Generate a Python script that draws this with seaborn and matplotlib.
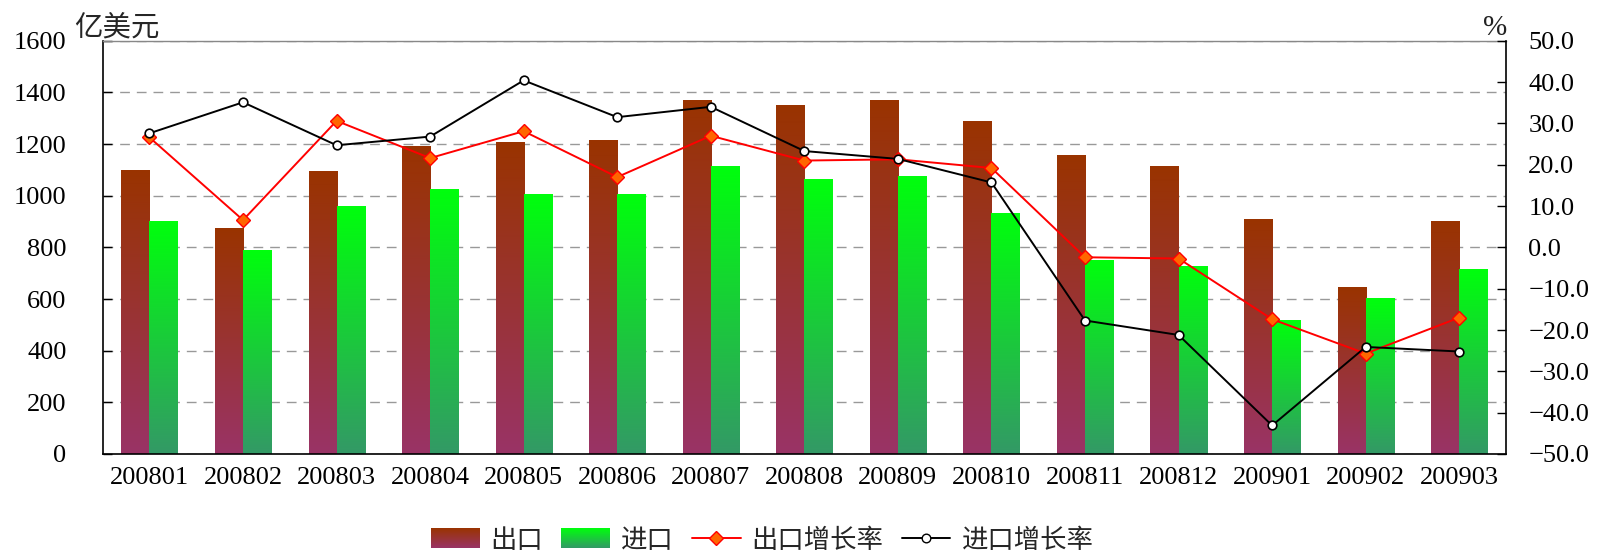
import numpy as np
import pandas as pd
import matplotlib
matplotlib.use("Agg")
import matplotlib.pyplot as plt
import seaborn as sns
from matplotlib.ticker import FuncFormatter, MultipleLocator
from matplotlib.lines import Line2D
from matplotlib.patches import Patch
from matplotlib.font_manager import FontProperties
from matplotlib.legend_handler import HandlerBase
from matplotlib.image import BboxImage
from matplotlib.transforms import Bbox, TransformedBbox

# ---------------- data ----------------
months = ["200801", "200802", "200803", "200804", "200805", "200806", "200807", "200808",
          "200809", "200810", "200811", "200812", "200901", "200902", "200903"]
exports = [1097, 872, 1093, 1190, 1205, 1213, 1368, 1348, 1368, 1286, 1155, 1112, 906, 646, 902]
imports = [902, 786, 957, 1023, 1003, 1003, 1112, 1062, 1073, 930, 751, 724, 515, 603, 716]
export_growth = [26.6, 6.6, 30.6, 21.6, 28.1, 17.0, 27.0, 21.0, 21.3, 19.2, -2.4, -2.7, -17.4, -25.7, -17.0]
import_growth = [27.6, 35.1, 24.7, 26.8, 40.4, 31.5, 34.0, 23.3, 21.4, 15.7, -17.7, -21.2, -43.1, -24.1, -25.2]
series_names = ["出口", "进口"]
line_names = ["出口增长率", "进口增长率"]
left_unit = "亿美元"
right_unit = "%"

# ---------------- style ----------------
EXP_TOP, EXP_BOT = (0.600, 0.200, 0.000), (0.600, 0.200, 0.400)
IMP_TOP, IMP_BOT = (0.000, 1.000, 0.050), (0.200, 0.600, 0.400)
CJK = ["Noto Sans CJK SC", "DejaVu Sans"]
NUM = ["Liberation Serif", "DejaVu Serif"]
NUM_SIZE = 19

sns.set_theme(style="white")
plt.rcParams["font.family"] = NUM + ["Noto Sans CJK SC"]
plt.rcParams["axes.unicode_minus"] = True

W, H = 1599, 554
fig = plt.figure(figsize=(W / 100, H / 100), dpi=100)
x0, x1, ytop, ybot = 102.7, 1506, 40.7, 454
ax = fig.add_axes([x0 / W, 1 - ybot / H, (x1 - x0) / W, (ybot - ytop) / H])

n = len(months)
df = pd.DataFrame({
    "month": months * 2,
    "value": exports + imports,
    "type": [series_names[0]] * n + [series_names[1]] * n,
})
sns.barplot(data=df, x="month", y="value", hue="type", order=months,
            hue_order=series_names, palette=[EXP_TOP, IMP_TOP], width=0.6,
            saturation=1, ax=ax, legend=False, linewidth=0, errorbar=None)
ax.set_xlim(-0.5, n - 0.5)
ax.set_ylim(0, 1600)


def gradient(top, bot, k=256):
    t = np.linspace(0, 1, k)[:, None, None]
    a = np.array(top)[None, None, :]
    b = np.array(bot)[None, None, :]
    return a * (1 - t) + b * t


# overlay vertical gradients on each bar
for p in list(ax.patches):
    fc = p.get_facecolor()[:3]
    is_exp = np.allclose(fc, EXP_TOP, atol=0.02)
    g = gradient(EXP_TOP, EXP_BOT) if is_exp else gradient(IMP_TOP, IMP_BOT)
    bx, bw, bh = p.get_x(), p.get_width(), p.get_height()
    ax.imshow(g, extent=[bx, bx + bw, 0, bh], origin="upper", aspect="auto",
              interpolation="nearest", zorder=2)
ax.set_xlim(-0.5, n - 0.5)
ax.set_ylim(0, 1600)

# grid
ax.yaxis.set_major_locator(MultipleLocator(200))
ax.grid(axis="y", color="#999999", linestyle=(0, (7, 5)), linewidth=1.0)
ax.grid(axis="x", visible=False)
ax.set_axisbelow(True)

ax.set_xlabel("")
ax.set_ylabel("")
ax.tick_params(axis="y", direction="in", length=6.5, width=1, pad=26, labelsize=NUM_SIZE,
               colors="black", left=True)
ax.tick_params(axis="x", length=0, pad=9, labelsize=NUM_SIZE, colors="black")
for lab in ax.get_xticklabels() + ax.get_yticklabels():
    lab.set_fontfamily(NUM)

for s in ["left", "bottom"]:
    ax.spines[s].set_color("black")
    ax.spines[s].set_linewidth(1.2)
ax.spines["top"].set_color("#888888")
ax.spines["top"].set_linewidth(1.0)
ax.spines["right"].set_visible(False)

# ---------------- lines on right axis ----------------
ax2 = ax.twinx()
xs = np.arange(n)
sns.lineplot(x=xs, y=export_growth, ax=ax2, color="#FF0000", linewidth=1.4,
             marker="D", markersize=7.5, markerfacecolor="#FF6600",
             markeredgecolor="#FF0000", markeredgewidth=1.0, zorder=5)
sns.lineplot(x=xs, y=import_growth, ax=ax2, color="black", linewidth=1.4,
             marker="o", markersize=6.2, markerfacecolor="white",
             markeredgecolor="black", markeredgewidth=1.2, zorder=6)
ax2.set_ylim(-50, 50)
ax2.set_xlim(-0.5, n - 0.5)
ax2.yaxis.set_major_locator(MultipleLocator(10))
ax2.yaxis.set_major_formatter(FuncFormatter(lambda v, p: f"{v:.1f}".replace("-", "\u2212")))
ax2.tick_params(axis="y", direction="in", length=6.5, width=1, pad=16, labelsize=NUM_SIZE,
                colors="black", right=True)
for lab in ax2.get_yticklabels():
    lab.set_fontfamily(NUM)
    lab.set_horizontalalignment("left")
ax2.grid(False)
ax2.set_ylabel("")
for s in ["left", "bottom", "top"]:
    ax2.spines[s].set_visible(False)
ax2.spines["right"].set_color("black")
ax2.spines["right"].set_linewidth(1.2)
if ax2.get_legend():
    ax2.get_legend().remove()

# ---------------- unit labels ----------------
fig.text(74 / W, 1 - 36 / H, left_unit, fontsize=20.5, family=CJK, ha="left", va="baseline")
fig.text(1507 / W, 1 - 35 / H, right_unit, fontsize=21, family=NUM, ha="right", va="baseline",
         color="#222222")


# ---------------- legend ----------------
class GradientHandler(HandlerBase):
    def __init__(self, top, bot):
        super().__init__()
        self.top, self.bot = top, bot

    def create_artists(self, legend, orig_handle, xdescent, ydescent, width, height,
                       fontsize, trans):
        bb = Bbox.from_bounds(-xdescent, -ydescent, width, height)
        img = BboxImage(TransformedBbox(bb, trans), interpolation="nearest", origin="upper")
        img.set_data(gradient(self.top, self.bot))
        return [img]


h_exp = Patch(facecolor=EXP_TOP, edgecolor="none", label=series_names[0])
h_imp = Patch(facecolor=IMP_TOP, edgecolor="none", label=series_names[1])
handles = [
    h_exp,
    h_imp,
    Line2D([], [], color="#FF0000", lw=1.4, marker="D", markersize=7.5,
           markerfacecolor="#FF6600", markeredgecolor="#FF0000", label=line_names[0]),
    Line2D([], [], color="black", lw=1.4, marker="o", markersize=6.2,
           markerfacecolor="white", markeredgecolor="black", label=line_names[1]),
]
leg = fig.legend(handles=handles, loc="center", bbox_to_anchor=(762 / W, 1 - 540 / H),
                 ncol=4, frameon=False, prop=FontProperties(family=CJK, size=19),
                 handlelength=1.85, handleheight=0.76, handletextpad=0.42,
                 columnspacing=0.68, borderpad=0, numpoints=1,
                 handler_map={h_exp: GradientHandler(EXP_TOP, EXP_BOT),
                              h_imp: GradientHandler(IMP_TOP, IMP_BOT)})

fig.savefig("out.png", dpi=100)
